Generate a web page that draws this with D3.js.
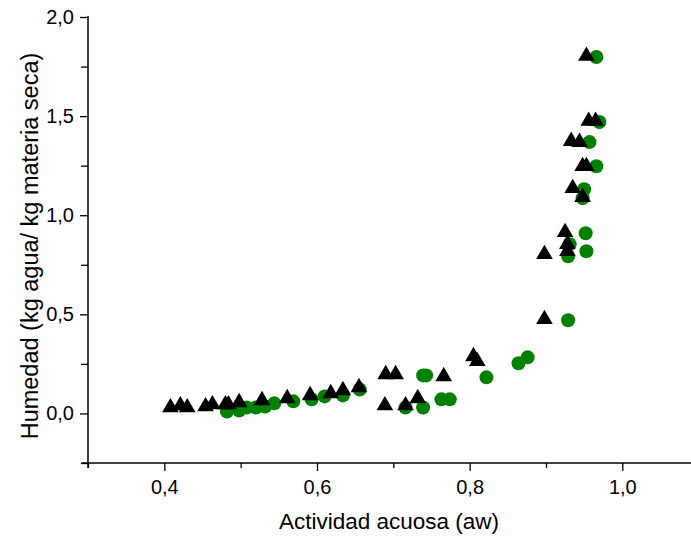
<!DOCTYPE html>
<html>
<head>
<meta charset="utf-8">
<script src="https://cdn.jsdelivr.net/npm/d3@7"></script>
<style>
  body { margin: 0; background: #fff; }
  svg text { font-family: "Liberation Sans", Arial, sans-serif; fill: #000; }
</style>
</head>
<body>
<svg id="chart" width="691" height="538"></svg>
<script>
/*
Sorption data: water activity vs moisture.
 */
var circleAw = [0.482, 0.498, 0.508, 0.520, 0.532, 0.544, 0.569, 0.593, 0.610, 0.634, 0.656,
    0.716, 0.739, 0.739, 0.743, 0.763, 0.774, 0.822, 0.864, 0.876, 0.929,
    0.950, 0.948, 0.952, 0.931, 0.929, 0.953, 0.966, 0.970, 0.957, 0.966];
var circleHum = [0.010, 0.015, 0.030, 0.030, 0.035, 0.051, 0.061, 0.071, 0.086, 0.091, 0.121,
    0.030, 0.030, 0.192, 0.192, 0.071, 0.071, 0.182, 0.253, 0.283, 0.470,
    1.131, 1.086, 0.909, 0.854, 0.793, 0.818, 1.798, 1.470, 1.369, 1.247];

var triAw = [0.408, 0.421, 0.430, 0.454, 0.463, 0.480, 0.484, 0.498, 0.528, 0.561, 0.591,
    0.618, 0.634, 0.655, 0.690, 0.703, 0.689, 0.716, 0.732, 0.766, 0.805, 0.810,
    0.898, 0.898, 0.935, 0.948, 0.925, 0.928, 0.928, 0.953, 0.956, 0.965,
    0.933, 0.944, 0.948, 0.953];
var triHum = [0.030, 0.040, 0.030, 0.035, 0.045, 0.045, 0.045, 0.056, 0.066, 0.076, 0.091,
    0.101, 0.116, 0.131, 0.197, 0.197, 0.040, 0.040, 0.076, 0.187, 0.288, 0.263,
    0.803, 0.475, 1.136, 1.091, 0.914, 0.854, 0.818, 1.803, 1.475, 1.475,
    1.374, 1.369, 1.247, 1.247];

var xMajor = [0.4, 0.6, 0.8, 1.0];
var xMinor = [0.3, 0.5, 0.7, 0.9];
var yMajor = [0.0, 0.5, 1.0, 1.5, 2.0];
var yMinor = [-0.25, 0.25, 0.75, 1.25, 1.75];

/*
Static constants
 */
const plotLeft = 88, plotRight = 691, plotTop = 17, plotBottom = 463;
const green = "#008000";
const commaFmt = d3.formatLocale({decimal: ",", thousands: ".", grouping: [3], currency: ["", ""]}).format(".1f");

var svg = d3.select("#chart");

var x = d3.scaleLinear().domain([0.3, 1.09]).range([plotLeft, plotRight]);
var y = d3.scaleLinear().domain([-0.25, 2.0]).range([plotBottom, plotTop]);

// minor ticks first, unlabeled
svg.append("g")
    .attr("transform", "translate(0," + plotBottom + ")")
    .call(d3.axisBottom(x).tickValues(xMinor).tickSize(5).tickFormat(""));
svg.append("g")
    .attr("transform", "translate(" + plotLeft + ",0)")
    .call(d3.axisLeft(y).tickValues(yMinor).tickSize(7).tickFormat(""));

// major ticks with comma decimals
var xAxis = svg.append("g")
    .attr("transform", "translate(0," + plotBottom + ")")
    .call(d3.axisBottom(x).tickValues(xMajor).tickSize(8).tickSizeOuter(0).tickPadding(9).tickFormat(commaFmt));
var yAxis = svg.append("g")
    .attr("transform", "translate(" + plotLeft + ",0)")
    .call(d3.axisLeft(y).tickValues(yMajor).tickSize(8).tickSizeOuter(0).tickPadding(6).tickFormat(commaFmt));

svg.selectAll(".domain").remove();
[xAxis, yAxis].forEach(function(g) {
    g.selectAll("text").style("font-size", "20px").style("font-family", "'Liberation Sans', Arial, sans-serif");
});
svg.selectAll("g.tick line").attr("stroke", "#000").attr("stroke-width", 1.3);

// axis lines
svg.append("line").attr("x1", plotLeft - 6).attr("x2", plotRight).attr("y1", plotBottom).attr("y2", plotBottom)
    .attr("stroke", "#000").attr("stroke-width", 1.5);
svg.append("line").attr("x1", plotLeft).attr("x2", plotLeft).attr("y1", plotTop - 1).attr("y2", plotBottom + 5)
    .attr("stroke", "#000").attr("stroke-width", 1.5);

// circles under, triangles on top
svg.append("g").selectAll("circle")
    .data(d3.range(circleAw.length))
    .join("circle")
    .attr("cx", function(i) { return x(circleAw[i]); })
    .attr("cy", function(i) { return y(circleHum[i]); })
    .attr("r", 7)
    .attr("fill", green);

var tri = d3.symbol().type(d3.symbolTriangle).size(120);
svg.append("g").selectAll("path")
    .data(d3.range(triAw.length))
    .join("path")
    .attr("d", tri)
    .attr("transform", function(i) { return "translate(" + x(triAw[i]) + "," + y(triHum[i]) + ")"; })
    .attr("fill", "#000");

// titles
svg.append("text")
    .attr("x", 389).attr("y", 529)
    .attr("text-anchor", "middle")
    .style("font-size", "22.5px")
    .text("Actividad acuosa (aw)");
svg.append("text")
    .attr("transform", "translate(38," + 246 + ") rotate(-90)")
    .attr("text-anchor", "middle")
    .style("font-size", "23.5px")
    .text("Humedad (kg agua/ kg materia seca)");
</script>
</body>
</html>
